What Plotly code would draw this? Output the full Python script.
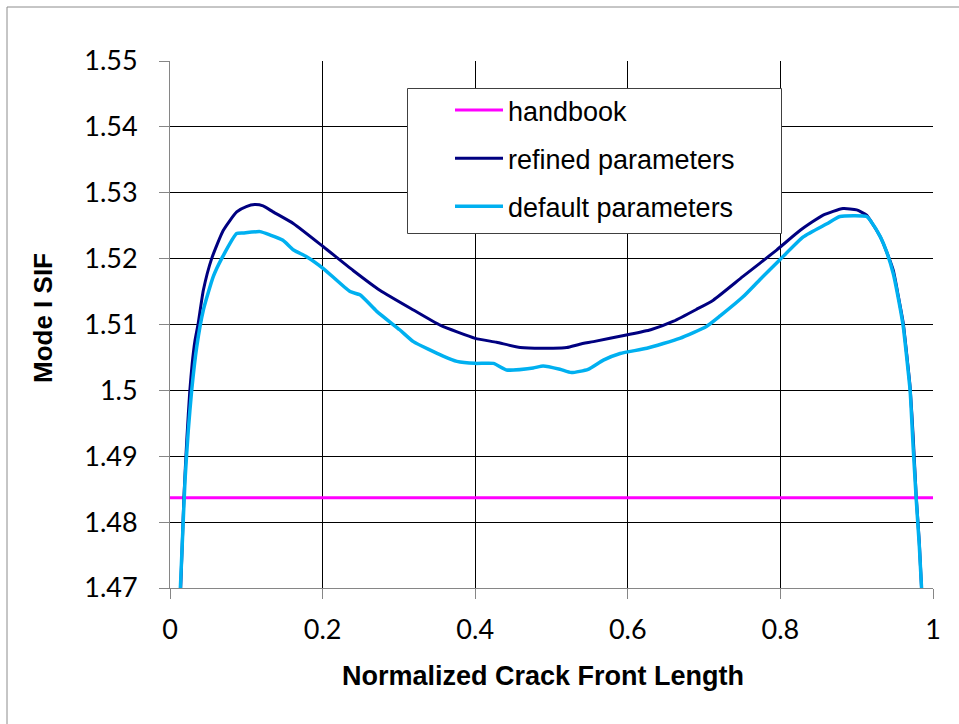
import plotly.graph_objects as go

# ---- data ----
handbook_x = [0.0, 1.0]
handbook_y = [1.4837, 1.4837]

refined_x = [0.014, 0.016, 0.0183, 0.022, 0.026, 0.029, 0.0328, 0.037, 0.0437, 0.0546,
             0.0699, 0.0874, 0.100, 0.111, 0.122, 0.135, 0.162, 0.201, 0.240, 0.275,
             0.319, 0.354, 0.400, 0.428, 0.459, 0.502, 0.520, 0.537, 0.555, 0.598,
             0.630, 0.660, 0.690, 0.712, 0.751, 0.795, 0.826, 0.856, 0.882, 0.900, 0.913,
             0.919, 0.931, 0.939, 0.948, 0.955, 0.961, 0.966, 0.970, 0.974, 0.978,
             0.982, 0.985]
refined_y = [1.470, 1.4765, 1.4839, 1.4925, 1.500, 1.5040, 1.5076, 1.5102, 1.5152, 1.5200,
             1.5243, 1.5271, 1.5279, 1.5282, 1.5280, 1.5271, 1.5253, 1.5218, 1.5182, 1.5152,
             1.5122, 1.5099, 1.5079, 1.5073, 1.5065, 1.5064, 1.5065, 1.5070, 1.5074, 1.5084,
             1.5092, 1.5105, 1.5123, 1.5137, 1.5173, 1.5213, 1.5243, 1.5266, 1.5276, 1.5274, 1.5266,
             1.5256, 1.5233, 1.5211, 1.5182, 1.5140, 1.5102, 1.5050, 1.5005, 1.4930, 1.4839,
             1.4770, 1.470]

default_x = [0.0136, 0.016, 0.0197, 0.024, 0.0284, 0.035, 0.0437, 0.0568, 0.0677, 0.0874,
             0.096, 0.118, 0.131, 0.148, 0.162, 0.179, 0.201, 0.236, 0.249, 0.271,
             0.301, 0.319, 0.358, 0.376, 0.400, 0.424, 0.441, 0.476, 0.489, 0.511,
             0.526, 0.548, 0.568, 0.590, 0.625, 0.668, 0.703, 0.721, 0.751, 0.773,
             0.799, 0.830, 0.861, 0.878, 0.913, 0.919, 0.931, 0.939, 0.948, 0.955,
             0.961, 0.966, 0.970, 0.974, 0.978, 0.982, 0.985]
default_y = [1.470, 1.4765, 1.4864, 1.4940, 1.500, 1.5066, 1.5122, 1.5173, 1.5200, 1.5238,
             1.5239, 1.5241, 1.5236, 1.5228, 1.5213, 1.5203, 1.5185, 1.5150, 1.5145, 1.5120,
             1.5092, 1.5074, 1.5052, 1.5044, 1.5041, 1.5041, 1.5031, 1.5034, 1.5037, 1.5032,
             1.5027, 1.5032, 1.5046, 1.5056, 1.5064, 1.5079, 1.5097, 1.5113, 1.5142, 1.5168,
             1.5198, 1.5233, 1.5253, 1.5264, 1.5264, 1.5256, 1.5233, 1.5211, 1.5177, 1.5137,
             1.5097, 1.5045, 1.5000, 1.4914, 1.4835, 1.4765, 1.470]

x_ticks = [0, 0.2, 0.4, 0.6, 0.8, 1]
y_ticks = [1.47, 1.48, 1.49, 1.50, 1.51, 1.52, 1.53, 1.54, 1.55]

x_title = "Normalized Crack Front Length"
y_title = "Mode I SIF"

fig = go.Figure()
fig.add_trace(go.Scatter(x=handbook_x, y=handbook_y, mode="lines", name="handbook",
                         legendgroup="a", line=dict(color="#FF00FF", width=3)))
fig.add_trace(go.Scatter(x=refined_x, y=refined_y, mode="lines", name="refined parameters",
                         legendgroup="b", line=dict(color="#000080", width=3, shape="spline", smoothing=0.5)))
fig.add_trace(go.Scatter(x=default_x, y=default_y, mode="lines", name="default parameters",
                         legendgroup="c", line=dict(color="#00B0F0", width=3.5, shape="spline", smoothing=0.5)))

W, H = 959, 724
L, R, T, B = 170, 26, 61, 136
pw, ph = W - L - R, H - T - B

def px(xp):
    return (xp - L) / pw

def py(yp):
    return (H - B - yp) / ph

title_font = dict(family="Liberation Sans, Arial", size=27, color="black", weight="bold")

fig.update_layout(
    width=W, height=H,
    margin=dict(l=L, r=R, t=T, b=B),
    paper_bgcolor="white", plot_bgcolor="white",
    showlegend=True,
    legend=dict(
        x=px(450), y=py(86), xanchor="left", yanchor="top",
        bgcolor="rgba(0,0,0,0)", borderwidth=0,
        font=dict(family="Liberation Sans, Arial", size=27, color="black"),
        tracegroupgap=10, itemwidth=48,
    ),
    xaxis=dict(
        range=[0, 1], tickvals=x_ticks, ticktext=[f"{v:g}" for v in x_ticks],
        showgrid=True, gridcolor="#000000", gridwidth=1,
        showline=True, linecolor="#868686", linewidth=1,
        ticks="outside", ticklen=10, tickcolor="#868686",
        tickfont=dict(family="Lato", size=27, color="black"),
        ticklabelstandoff=8,
        zeroline=False,
    ),
    yaxis=dict(
        range=[1.47, 1.55], tickvals=y_ticks, ticktext=[f"{v:g}" for v in y_ticks],
        showgrid=True, gridcolor="#000000", gridwidth=1,
        showline=True, linecolor="#868686", linewidth=1,
        ticks="outside", ticklen=10, tickcolor="#868686",
        tickfont=dict(family="Lato", size=27, color="black"),
        ticklabelstandoff=16,
        zeroline=False,
    ),
    annotations=[
        dict(text=x_title, xref="paper", yref="paper", x=px(542.5), y=py(676),
             xanchor="center", yanchor="middle", showarrow=False, font=title_font),
        dict(text=y_title, xref="paper", yref="paper", x=px(43), y=py(318),
             xanchor="center", yanchor="middle", showarrow=False, textangle=-90,
             font=dict(family="Liberation Sans, Arial", size=26, color="black", weight="bold")),
    ],
    shapes=[
        dict(type="rect", xref="paper", yref="paper",
             x0=px(7), x1=px(975), y0=py(740), y1=py(7),
             line=dict(color="#8c8c8c", width=1), fillcolor="rgba(0,0,0,0)", layer="below"),
        dict(type="rect", xref="paper", yref="paper",
             x0=px(407.5), x1=px(781.5), y0=py(233.5), y1=py(88.5),
             line=dict(color="#404040", width=1), fillcolor="white", layer="above"),
    ],
)

fig.write_html("out.html")
